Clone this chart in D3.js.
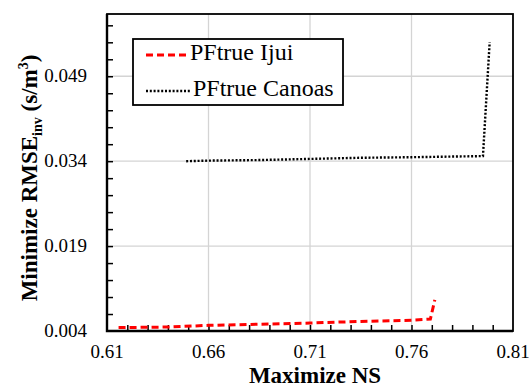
<!DOCTYPE html>
<html>
<head>
<meta charset="utf-8">
<script src="https://cdn.jsdelivr.net/npm/d3@7"></script>
</head>
<body style="margin:0;background:#fff">
<svg id="chart" width="529" height="387" font-family="serif"></svg>
<script>
// data
var seriesNames = ["PFtrue Ijui", "PFtrue Canoas"];
var ijuiNS   = [0.6157, 0.64, 0.66, 0.685, 0.71, 0.735, 0.76, 0.7693, 0.7715];
var ijuiRMSE = [0.0046, 0.0047, 0.0050, 0.0052, 0.0054, 0.0057, 0.0059, 0.0061, 0.0095];
var canoasNS   = [0.649, 0.66, 0.685, 0.71, 0.735, 0.76, 0.7952, 0.7985];
var canoasRMSE = [0.0340, 0.0341, 0.0342, 0.0344, 0.0346, 0.0347, 0.0349, 0.0550];
var xTicks = [0.61, 0.66, 0.71, 0.76, 0.81];
var yTicks = [0.004, 0.019, 0.034, 0.049];

var FONT = "serif";

// set the dimensions and margins of the graph
var margin = {top: 14, right: 16, bottom: 56, left: 107},
    width = 529 - margin.left - margin.right,
    height = 387 - margin.top - margin.bottom;

var x = d3.scaleLinear().domain([0.61, 0.81]).range([0, width]);
var y = d3.scaleLinear().domain([0.004, 0.06]).range([height, 0]);

var svg = d3.select("#chart")
    .append("g")
    .attr("transform", "translate(" + margin.left + "," + margin.top + ")");

// grid lines
svg.append("g").selectAll("line").data(xTicks.slice(1, -1)).enter().append("line")
    .attr("x1", d => x(d)).attr("x2", d => x(d))
    .attr("y1", 0).attr("y2", height)
    .attr("stroke", "#d4d4d4").attr("stroke-width", 1.3);
svg.append("g").selectAll("line").data(yTicks.slice(1)).enter().append("line")
    .attr("x1", 0).attr("x2", width)
    .attr("y1", d => y(d)).attr("y2", d => y(d))
    .attr("stroke", "#d4d4d4").attr("stroke-width", 1.3);

// minor ticks (inward)
var xMinor = d3.range(0.62, 0.805, 0.01);
var yMinor = d3.range(0.007, 0.0595, 0.003);

svg.append("g")
    .attr("transform", "translate(0," + height + ")")
    .call(d3.axisBottom(x).tickValues(xMinor).tickSize(-6).tickFormat(""))
    .call(g => g.select(".domain").remove())
    .selectAll("line").attr("stroke", "#000").attr("stroke-width", 1.5);
svg.append("g")
    .call(d3.axisLeft(y).tickValues(yMinor).tickSize(-6).tickFormat(""))
    .call(g => g.select(".domain").remove())
    .selectAll("line").attr("stroke", "#000").attr("stroke-width", 1.5);

// tick labels
svg.append("g").selectAll("text").data(xTicks).enter().append("text")
    .attr("x", d => x(d)).attr("y", height + 27)
    .attr("text-anchor", "middle")
    .attr("font-family", FONT).attr("font-size", 19)
    .text(d3.format(".2f"));
svg.append("g").selectAll("text").data(yTicks).enter().append("text")
    .attr("x", -20).attr("y", d => y(d) + 6)
    .attr("text-anchor", "end")
    .attr("font-family", FONT).attr("font-size", 19)
    .text(d3.format(".3f"));

// frame
svg.append("rect")
    .attr("width", width).attr("height", height)
    .attr("fill", "none").attr("stroke", "#000").attr("stroke-width", 1.8);
svg.append("path")
    .attr("d", "M0,0V" + height + "H" + width)
    .attr("fill", "none").attr("stroke", "#000").attr("stroke-width", 2.4);

// lines
var line = d3.line().x(d => x(d[0])).y(d => y(d[1]));
var ijui = d3.zip(ijuiNS, ijuiRMSE);
var canoas = d3.zip(canoasNS, canoasRMSE);

svg.append("path").datum(ijui)
    .attr("d", line)
    .attr("fill", "none").attr("stroke", "#ff0000")
    .attr("stroke-width", 3).attr("stroke-dasharray", "7,4");
svg.append("path").datum(canoas)
    .attr("d", line)
    .attr("fill", "none").attr("stroke", "#000")
    .attr("stroke-width", 2.4).attr("stroke-dasharray", "2,1.8");

// legend
var legend = svg.append("g").attr("transform", "translate(" + (133 - margin.left) + "," + (39 - margin.top) + ")");
legend.append("rect")
    .attr("width", 210).attr("height", 66)
    .attr("fill", "#fff").attr("stroke", "#000").attr("stroke-width", 1.8);
var styles = [
    {stroke: "#ff0000", w: 3, dash: "7,4"},
    {stroke: "#000", w: 2.4, dash: "2,1.8"}
];
seriesNames.forEach(function (name, i) {
    var yy = 16 + i * 36;
    legend.append("line")
        .attr("x1", 13).attr("x2", 57).attr("y1", yy).attr("y2", yy)
        .attr("stroke", styles[i].stroke).attr("stroke-width", styles[i].w)
        .attr("stroke-dasharray", styles[i].dash);
    legend.append("text")
        .attr("x", 57 + i * 3).attr("y", yy + 5)
        .attr("font-family", FONT).attr("font-size", 24)
        .text(name);
});

// axis titles
svg.append("text")
    .attr("x", width / 2 + 5).attr("y", height + 52)
    .attr("text-anchor", "middle")
    .attr("font-family", FONT).attr("font-size", 23).attr("font-weight", "bold")
    .text("Maximize NS");

var yt = svg.append("text")
    .attr("transform", "translate(" + (37 - margin.left) + "," + (178 - margin.top) + ") rotate(-90)")
    .attr("text-anchor", "middle")
    .attr("font-family", FONT).attr("font-size", 23).attr("font-weight", "bold");
yt.append("tspan").text("Minimize RMSE");
yt.append("tspan").attr("dy", 5).attr("font-size", 14).text("inv");
yt.append("tspan").attr("dy", -5).text(" (s/m");
yt.append("tspan").attr("dy", -9).attr("font-size", 14).text("3");
yt.append("tspan").attr("dy", 9).text(")");
</script>
</body>
</html>
